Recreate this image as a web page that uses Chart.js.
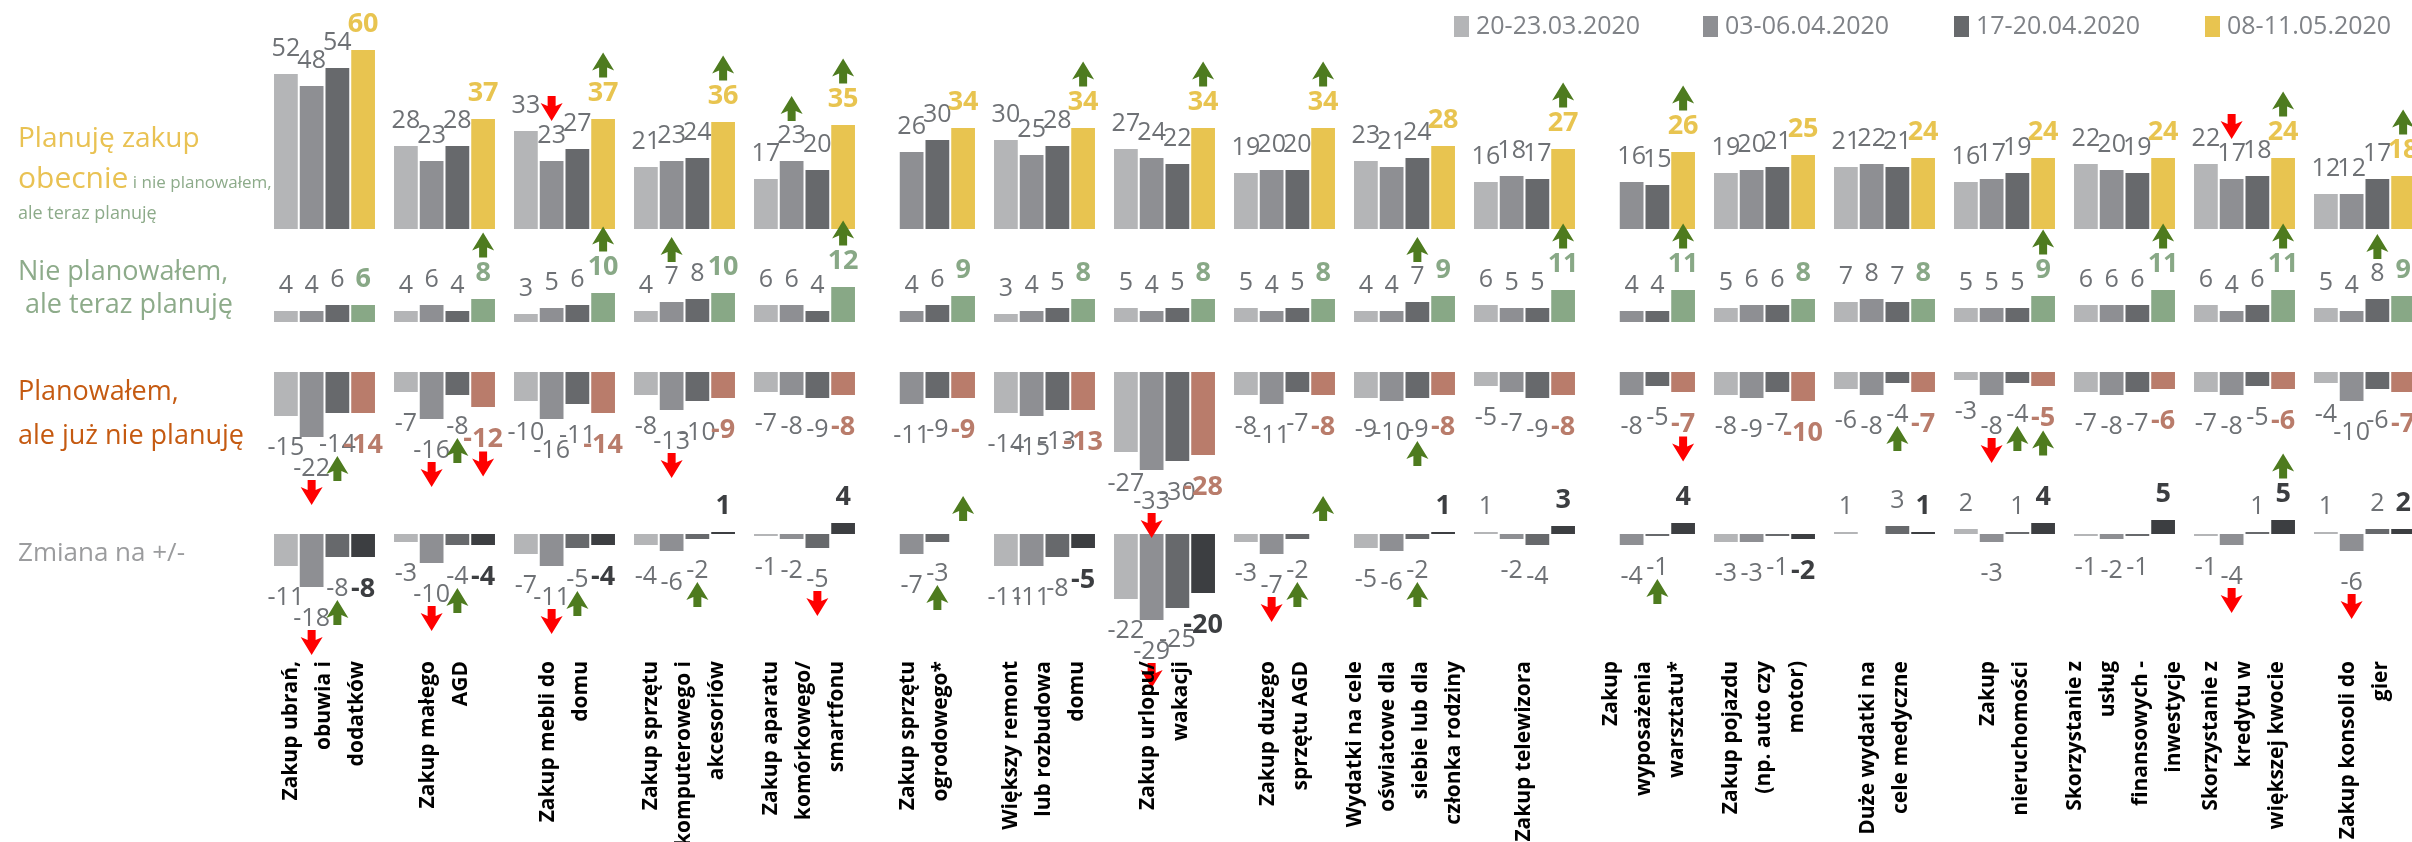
<!DOCTYPE html>
<html>
<head>
<meta charset="utf-8">
<script src="https://cdn.jsdelivr.net/npm/chart.js@4.4.1/dist/chart.umd.min.js"></script>
<style>
  html, body { margin: 0; padding: 0; background: #fff; overflow: hidden; }
  #wrap { position: relative; width: 2440px; height: 842px; }
</style>
</head>
<body>
<div id="wrap"><canvas id="chart" width="2440" height="842"></canvas></div>
<script>
// ---- data ----
const periods = ['20-23.03.2020', '03-06.04.2020', '17-20.04.2020', '08-11.05.2020'];

const categories = [
  ['Zakup ubrań,', 'obuwia i', 'dodatków'],
  ['Zakup małego', 'AGD'],
  ['Zakup mebli do', 'domu'],
  ['Zakup sprzętu', 'komputerowego i', 'akcesoriów'],
  ['Zakup aparatu', 'komórkowego/', 'smartfonu'],
  ['Zakup sprzętu', 'ogrodowego*'],
  ['Większy remont', 'lub rozbudowa', 'domu'],
  ['Zakup urlopu/', 'wakacji'],
  ['Zakup dużego', 'sprzętu AGD'],
  ['Wydatki na cele', 'oświatowe dla', 'siebie lub dla', 'członka rodziny'],
  ['Zakup telewizora'],
  ['Zakup', 'wyposażenia', 'warsztatu*'],
  ['Zakup pojazdu', '(np. auto czy', 'motor)'],
  ['Duże wydatki na', 'cele medyczne'],
  ['Zakup', 'nieruchomości'],
  ['Skorzystanie z', 'usług', 'finansowych -', 'inwestycje'],
  ['Skorzystanie z', 'kredytu w', 'większej kwocie'],
  ['Zakup konsoli do', 'gier'],
];

// one list per survey wave, values per category
const planujeObecnie = [
  [52, 28, 33, 21, 17, null, 30, 27, 19, 23, 16, null, 19, 21, 16, 22, 22, 12],
  [48, 23, 23, 23, 23, 26, 25, 24, 20, 21, 18, 16, 20, 22, 17, 20, 17, 12],
  [54, 28, 27, 24, 20, 30, 28, 22, 20, 24, 17, 15, 21, 21, 19, 19, 18, 17],
  [60, 37, 37, 36, 35, 34, 34, 34, 34, 28, 27, 26, 25, 24, 24, 24, 24, 18],
];
const niePlanowalem = [
  [4, 4, 3, 4, 6, null, 3, 5, 5, 4, 6, null, 5, 7, 5, 6, 6, 5],
  [4, 6, 5, 7, 6, 4, 4, 4, 4, 4, 5, 4, 6, 8, 5, 6, 4, 4],
  [6, 4, 6, 8, 4, 6, 5, 5, 5, 7, 5, 4, 6, 7, 5, 6, 6, 8],
  [6, 8, 10, 10, 12, 9, 8, 8, 8, 9, 11, 11, 8, 8, 9, 11, 11, 9],
];
const juzNiePlanuje = [
  [-15, -7, -10, -8, -7, null, -14, -27, -8, -9, -5, null, -8, -6, -3, -7, -7, -4],
  [-22, -16, -16, -13, -8, -11, -15, -33, -11, -10, -7, -8, -9, -8, -8, -8, -8, -10],
  [-14, -8, -11, -10, -9, -9, -13, -30, -7, -9, -9, -5, -7, -4, -4, -7, -5, -6],
  [-14, -12, -14, -9, -8, -9, -13, -28, -8, -8, -8, -7, -10, -7, -5, -6, -6, -7],
];
const zmiana = [
  [-11, -3, -7, -4, -1, null, -11, -22, -3, -5, 1, null, -3, 1, 2, -1, -1, 1],
  [-18, -10, -11, -6, -2, -7, -11, -29, -7, -6, -2, -4, -3, 0, -3, -2, -4, -6],
  [-8, -4, -5, -2, -5, -3, -8, -25, -2, -2, -4, -1, -1, 3, 1, -1, 1, 2],
  [-8, -4, -4, 1, 4, 0, -5, -20, 0, 1, 3, 4, -2, 1, 4, 5, 5, 2],
];

// significance arrows: [row, category, wave]
const arrowsUp = [
  [0, 2, 3], [0, 3, 3], [0, 4, 1], [0, 4, 3], [0, 6, 3], [0, 7, 3], [0, 8, 3], [0, 10, 3], [0, 11, 3], [0, 16, 3], [0, 17, 3],
  [1, 1, 3], [1, 2, 3], [1, 3, 1], [1, 4, 3], [1, 9, 2], [1, 10, 3], [1, 11, 3], [1, 14, 3], [1, 15, 3], [1, 16, 3], [1, 17, 2],
  [2, 0, 2], [2, 1, 2], [2, 9, 2], [2, 13, 2], [2, 14, 2], [2, 14, 3],
  [3, 0, 2], [3, 1, 2], [3, 2, 2], [3, 3, 2], [3, 5, 2], [3, 5, 3], [3, 8, 2], [3, 8, 3], [3, 9, 2], [3, 11, 2], [3, 16, 3],
];
const arrowsDown = [
  [0, 2, 1], [0, 16, 1],
  [2, 0, 1], [2, 1, 1], [2, 1, 3], [2, 3, 1], [2, 7, 1], [2, 11, 3], [2, 14, 1],
  [3, 0, 1], [3, 1, 1], [3, 2, 1], [3, 4, 2], [3, 7, 1], [3, 8, 1], [3, 16, 1], [3, 17, 1],
];

const rowTitles = [
  { parts: [['Planuję zakup', 28, '#e9c253']], y: 147 },
  { parts: [['obecnie', 30, '#e9c253'], [' i nie planowałem,', 17, '#8dab8a']], y: 188 },
  { parts: [['ale teraz planuję', 18, '#8dab8a']], y: 219 },
  { parts: [['Nie planowałem,', 27, '#8dab8a']], y: 280 },
  { parts: [[' ale teraz planuję', 27, '#8dab8a']], y: 313 },
  { parts: [['Planowałem,', 27, '#c55a11']], y: 400 },
  { parts: [['ale już nie planuję', 27, '#c55a11']], y: 444 },
  { parts: [['Zmiana na +/-', 26, '#9b9c9e']], y: 561 },
];

// ---- layout ----
const FONT = '"Open Sans", "Noto Sans", sans-serif';
const TOP = 49, BOTTOM = 650, PX = 3;
const ROW_BASE = [229, 322, 372, 534];
const GRAYS = ['#b4b5b7', '#8e8f93', '#67696c'];
const LAST = ['#e8c450', '#88a886', '#b97c6b', '#3c3e41'];
const LABEL_GRAY = '#6e7175';

const rows = [planujeObecnie, niePlanowalem, juzNiePlanuje, zmiana];
const datasets = [];
rows.forEach((series, r) => {
  series.forEach((vals, p) => {
    datasets.push({
      label: periods[p],
      data: vals,
      yAxisID: 'y' + r,
      stack: 'w' + p,
      row: r,
      wave: p,
      backgroundColor: p < 3 ? GRAYS[p] : LAST[r],
      borderColor: 'rgba(255,255,255,0.45)',
      borderWidth: 1,
      borderSkipped: 'start',
    });
  });
});

const scales = {
  x: { type: 'category', display: false, offset: true },
};
ROW_BASE.forEach((base, r) => {
  scales['y' + r] = {
    type: 'linear', display: false, stacked: false,
    max: (base - TOP) / PX, min: -(BOTTOM - base) / PX,
  };
});

const GAP_POS = 17, GAP_NEG = 20, CAP = 0.72;

function labelFont(wave) {
  return wave === 3 ? { size: 27, weight: 'bold' } : { size: 25, weight: 'normal' };
}

// where the value label of a bar sits: returns [x, top, bottom] of the digits
function labelBox(chart, r, cat, p) {
  const ds = chart.data.datasets[r * 4 + p];
  const el = chart.getDatasetMeta(r * 4 + p).data[cat];
  const v = ds.data[cat];
  const h = labelFont(p).size * CAP;
  if (v >= 0) {
    const bottom = el.y - GAP_POS;
    return [el.x, bottom - h, bottom];
  }
  const top = el.y + GAP_NEG;
  return [el.x, top, top + h];
}

const valueLabels = {
  id: 'valueLabels',
  afterDatasetsDraw(chart) {
    const ctx = chart.ctx;
    ctx.save();
    ctx.textAlign = 'center';
    ctx.textBaseline = 'alphabetic';
    chart.data.datasets.forEach((ds, i) => {
      const f = labelFont(ds.wave);
      ctx.font = `${f.weight} ${f.size}px ${FONT}`;
      ctx.fillStyle = ds.wave === 3 ? LAST[ds.row] : LABEL_GRAY;
      ds.data.forEach((v, j) => {
        if (v === null || v === 0) return;
        const [x, , bottom] = labelBox(chart, ds.row, j, ds.wave);
        ctx.fillText(String(v), x, bottom);
      });
    });
    ctx.restore();
  },
};

function drawArrow(ctx, x, y, up, color) {
  // y is the tip of the arrow
  const s = up ? 1 : -1;
  ctx.fillStyle = color;
  ctx.beginPath();
  ctx.moveTo(x, y);
  ctx.lineTo(x + 11, y + s * 18);
  ctx.lineTo(x + 4, y + s * 15);
  ctx.lineTo(x + 4, y + s * 25);
  ctx.lineTo(x - 4, y + s * 25);
  ctx.lineTo(x - 4, y + s * 15);
  ctx.lineTo(x - 11, y + s * 18);
  ctx.closePath();
  ctx.fill();
}

const arrows = {
  id: 'arrows',
  afterDatasetsDraw(chart) {
    const ctx = chart.ctx;
    ctx.save();
    const place = (list, up, color) => list.forEach(([r, c, p]) => {
      const v = chart.data.datasets[r * 4 + p].data[c];
      const el = chart.getDatasetMeta(r * 4 + p).data[c];
      const [x, top, bottom] = labelBox(chart, r, c, p);
      if (v === 0) {
        drawArrow(ctx, x, up ? el.y - 38 : el.y - 13, up, color);
      } else if (v > 0) {
        drawArrow(ctx, x, up ? top - 29 : top - 4, up, color);
      } else {
        drawArrow(ctx, x, up ? bottom + 4 : bottom + 29, up, color);
      }
    });
    place(arrowsUp, true, '#4e7b1f');
    place(arrowsDown, false, '#ff0000');
    ctx.restore();
  },
};

const decorations = {
  id: 'decorations',
  afterDraw(chart) {
    const ctx = chart.ctx;
    ctx.save();

    // legend
    const legendX = [1454, 1703, 1954, 2205];
    ctx.textBaseline = 'middle';
    ctx.textAlign = 'left';
    ctx.font = `normal 25px ${FONT}`;
    periods.forEach((p, i) => {
      ctx.fillStyle = i < 3 ? GRAYS[i] : LAST[0];
      ctx.fillRect(legendX[i], 16, 15, 21);
      ctx.fillStyle = '#7f8287';
      ctx.fillText(p, legendX[i] + 22, 27);
    });

    // row titles on the left
    ctx.textBaseline = 'alphabetic';
    rowTitles.forEach(t => {
      let x = 18;
      t.parts.forEach(([txt, size, color]) => {
        ctx.font = `normal ${size}px ${FONT}`;
        ctx.fillStyle = color;
        ctx.fillText(txt, x, t.y);
        x += ctx.measureText(txt).width;
      });
    });

    // category names, rotated, under the bars
    const xs = chart.scales.x;
    const LH = 33;
    ctx.font = `bold 21px ${FONT}`;
    ctx.fillStyle = '#000';
    ctx.textAlign = 'right';
    ctx.textBaseline = 'middle';
    categories.forEach((lines, i) => {
      const cx = xs.getPixelForValue(i);
      lines.forEach((line, j) => {
        const lx = cx + (j - (lines.length - 1) / 2) * LH;
        ctx.save();
        ctx.translate(lx, 661);
        ctx.rotate(-Math.PI / 2);
        ctx.fillText(line, 0, 0);
        ctx.restore();
      });
    });
    ctx.restore();
  },
};

new Chart(document.getElementById('chart'), {
  type: 'bar',
  data: { labels: categories.map(c => c.join(' ')), datasets },
  options: {
    responsive: false,
    animation: false,
    devicePixelRatio: 1,
    layout: { padding: { left: 264.5, right: 15.5, top: TOP, bottom: 842 - BOTTOM } },
    datasets: { bar: { barPercentage: 1, categoryPercentage: 0.858 } },
    scales,
    plugins: { legend: { display: false }, tooltip: { enabled: false }, title: { display: false } },
  },
  plugins: [valueLabels, arrows, decorations],
});
</script>
</body>
</html>
